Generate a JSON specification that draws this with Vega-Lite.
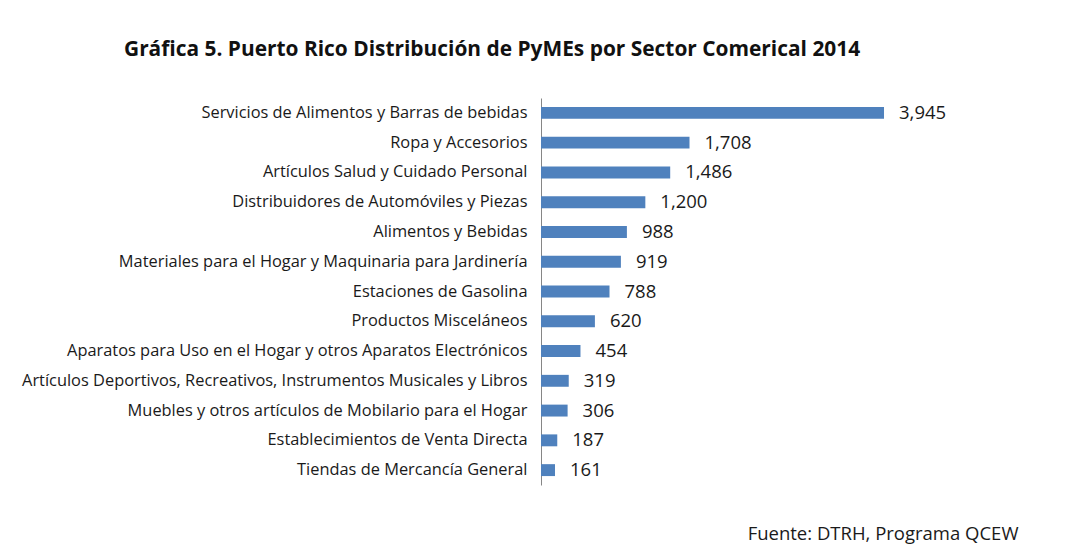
{
  "$schema": "https://vega.github.io/schema/vega-lite/v6.json",
  "width": 477,
  "height": 387,
  "autosize": "none",
  "padding": {"left": 541, "top": 98, "right": 50, "bottom": 73},
  "background": "white",
  "title": {
    "text": "Gráfica 5. Puerto Rico Distribución de PyMEs por Sector Comerical 2014",
    "anchor": "start",
    "frame": "group",
    "dx": -417,
    "offset": 38,
    "font": "Open Sans",
    "fontSize": 20.9,
    "fontWeight": "bold",
    "color": "#111111"
  },
  "data": {
    "values": [
      {"sector": "Servicios de Alimentos y Barras de bebidas", "value": 3945},
      {"sector": "Ropa y Accesorios", "value": 1708},
      {"sector": "Artículos Salud y Cuidado Personal", "value": 1486},
      {"sector": "Distribuidores de Automóviles y Piezas", "value": 1200},
      {"sector": "Alimentos y Bebidas", "value": 988},
      {"sector": "Materiales para el Hogar y Maquinaria para Jardinería", "value": 919},
      {"sector": "Estaciones de Gasolina", "value": 788},
      {"sector": "Productos Misceláneos", "value": 620},
      {"sector": "Aparatos para Uso en el Hogar y otros Aparatos Electrónicos", "value": 454},
      {"sector": "Artículos Deportivos, Recreativos, Instrumentos Musicales y Libros", "value": 319},
      {"sector": "Muebles y otros artículos de Mobilario para el Hogar", "value": 306},
      {"sector": "Establecimientos de Venta Directa", "value": 187},
      {"sector": "Tiendas de Mercancía General", "value": 161}
    ]
  },
  "encoding": {
    "y": {
      "field": "sector",
      "type": "nominal",
      "sort": null,
      "scale": {"paddingInner": 0.6, "paddingOuter": 0.3},
      "axis": {
        "title": null,
        "domain": true,
        "domainColor": "#868686",
        "domainWidth": 1,
        "ticks": false,
        "labelPadding": 14,
        "labelLimit": 0,
        "labelFont": "Open Sans",
        "labelFontSize": 16.4,
        "labelColor": "#1a1a1a",
        "grid": false
      }
    },
    "x": {
      "field": "value",
      "type": "quantitative",
      "scale": {"domain": [0, 5486], "nice": false},
      "axis": {
        "labels": false,
        "ticks": false,
        "domain": false,
        "grid": false,
        "title": "Fuente: DTRH, Programa QCEW",
        "titleAnchor": "end",
        "titleFont": "Open Sans",
        "titleFontSize": 18.5,
        "titleFontWeight": "normal",
        "titleColor": "#1a1a1a",
        "titlePadding": 39
      }
    }
  },
  "layer": [
    {"mark": {"type": "bar", "color": "#4f81bd"}},
    {
      "mark": {
        "type": "text",
        "align": "left",
        "baseline": "middle",
        "dx": 15,
        "font": "Open Sans",
        "fontSize": 18.5,
        "color": "#1a1a1a"
      },
      "encoding": {"text": {"field": "value", "type": "quantitative", "format": ","}}
    }
  ],
  "config": {"view": {"stroke": null}}
}
